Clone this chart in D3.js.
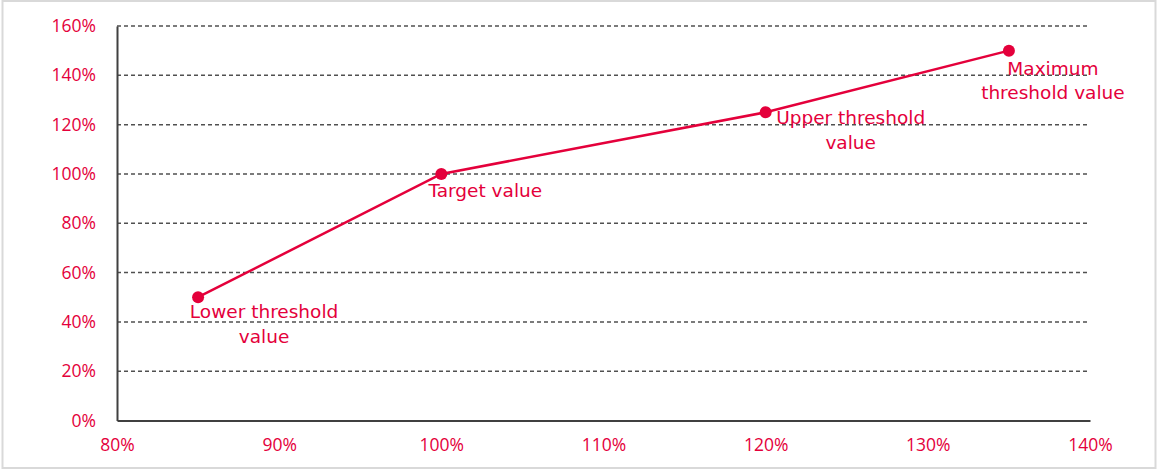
<!DOCTYPE html>
<html>
<head>
<meta charset="utf-8">
<script src="https://cdn.jsdelivr.net/npm/d3@7"></script>
<style>
  body { margin: 0; background: #fff; }
</style>
</head>
<body>
<div id="chart"></div>
<script>
// data
const xValues = [0.85, 1.00, 1.20, 1.35]
const yValues = [0.50, 1.00, 1.25, 1.50]
const pointLabels = [["Lower threshold", "value"], ["Target value"], ["Upper threshold", "value"], ["Maximum", "threshold value"]]
const xTicks = [0.8, 0.9, 1.0, 1.1, 1.2, 1.3, 1.4]
const yTicks = [0, 0.2, 0.4, 0.6, 0.8, 1.0, 1.2, 1.4, 1.6]

// where each label sits relative to its point (layout only)
const labelOffsets = [[66, 21], [44, 23], [85, 12], [44, 24]]

const red = "#e4003b"
const W = 1158, H = 470

const svg = d3.select("#chart")
    .append("svg")
    .attr("width", W)
    .attr("height", H)

// light frame round the chart
svg.append("rect")
    .attr("x", 2.5).attr("y", 1)
    .attr("width", 1153).attr("height", 467)
    .attr("fill", "#fff")
    .attr("stroke", "#d9d9d9")
    .attr("stroke-width", 2)

let x = d3.scaleLinear().domain([0.8, 1.4]).range([117, 1090]),
    y = d3.scaleLinear().domain([0, 1.6]).range([420.5, 26])

const pct = d3.format(".0%")

// gridlines
svg.append("g")
    .selectAll("line")
    .data(yTicks.filter(d => d > 0))
    .enter()
    .append("line")
    .attr("x1", x(0.8)).attr("x2", x(1.4))
    .attr("y1", d => y(d)).attr("y2", d => y(d))
    .attr("stroke", "#505050")
    .attr("stroke-width", 1.5)
    .attr("stroke-dasharray", "4,3")

// axes
let yAxis = svg.append("g")
    .attr("transform", "translate(" + x(0.8) + ",0)")
    .call(d3.axisLeft(y).tickValues(yTicks).tickFormat(pct).tickSize(0).tickPadding(21))

let xAxis = svg.append("g")
    .attr("transform", "translate(0," + y(0) + ")")
    .call(d3.axisBottom(x).tickValues(xTicks).tickFormat(pct).tickSize(0).tickPadding(18))

;[xAxis, yAxis].forEach(a => {
    a.select(".domain").attr("stroke", "#404040").attr("stroke-width", 2)
    a.selectAll("text")
        .attr("fill", red)
        .attr("font-family", "'Open Sans', sans-serif")
        .attr("font-size", "17.5px")
})

// series line
const points = xValues.map((v, i) => ({x: v, y: yValues[i], label: pointLabels[i], off: labelOffsets[i]}))

svg.append("path")
    .datum(points)
    .attr("fill", "none")
    .attr("stroke", red)
    .attr("stroke-width", 2.5)
    .attr("d", d3.line().x(d => x(d.x)).y(d => y(d.y)))

svg.selectAll(".dot")
    .data(points)
    .enter()
    .append("circle")
    .attr("class", "dot")
    .attr("cx", d => x(d.x))
    .attr("cy", d => y(d.y))
    .attr("r", 6)
    .attr("fill", red)

// data labels
let labels = svg.selectAll(".lbl")
    .data(points)
    .enter()
    .append("text")
    .attr("class", "lbl")
    .attr("x", d => x(d.x) + d.off[0])
    .attr("y", d => y(d.y) + d.off[1])
    .attr("text-anchor", "middle")
    .attr("font-family", "'DejaVu Sans', Verdana, sans-serif")
    .attr("font-size", "18.5px")
    .attr("fill", red)

labels.selectAll("tspan")
    .data(d => d.label.map(t => ({t, x: x(d.x) + d.off[0]})))
    .enter()
    .append("tspan")
    .attr("x", d => d.x)
    .attr("dy", (d, i) => i === 0 ? 0 : 24.5)
    .text(d => d.t)
</script>
</body>
</html>
